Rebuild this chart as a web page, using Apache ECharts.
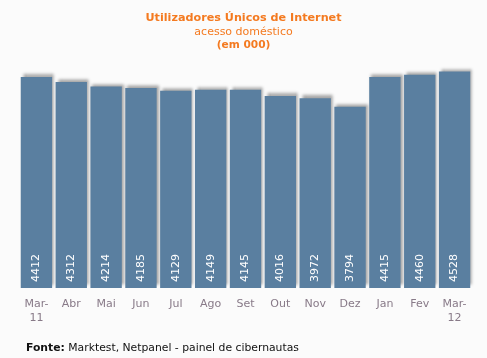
<!DOCTYPE html>
<html><head><meta charset="utf-8">
<script src="https://cdn.jsdelivr.net/npm/echarts@6/dist/echarts.min.js"></script>
<style>html,body{margin:0;padding:0;background:#fbfbfb;}#c{width:487px;height:358px;}</style>
</head><body><div id="c"></div>
<script>
var categories = ['Mar-\n11','Abr','Mai','Jun','Jul','Ago','Set','Out','Nov','Dez','Jan','Fev','Mar-\n12'];
var values = [4412,4312,4214,4185,4129,4149,4145,4016,3972,3794,4415,4460,4528];
var chart = echarts.init(document.getElementById('c'), null, {renderer:'canvas'});
chart.setOption({
  backgroundColor:'#fbfbfb',
  animation:false,
  title:[
    {text:'Utilizadores Únicos de Internet', left:'center', top:8,
     textStyle:{fontFamily:'DejaVu Sans', fontSize:11.2, fontWeight:'bold', color:'#f47a20'}},
    {text:'acesso doméstico', left:'center', top:22,
     textStyle:{fontFamily:'DejaVu Sans', fontSize:11, fontWeight:'normal', color:'#f47a20'}},
    {text:'(em 000)', left:'center', top:35,
     textStyle:{fontFamily:'DejaVu Sans', fontSize:10.6, fontWeight:'bold', color:'#f47a20'}},
    {text:'{b|Fonte:} Marktest, Netpanel - painel de cibernautas', left:21, top:338,
     textStyle:{fontFamily:'DejaVu Sans', fontSize:10.8, fontWeight:'normal', color:'#111',
       rich:{b:{fontFamily:'DejaVu Sans', fontSize:10.8, fontWeight:'bold', color:'#111'}}}}
  ],
  grid:{left:19, right:15, top:49, bottom:70},
  xAxis:{type:'category', data:categories,
    axisLine:{show:false}, axisTick:{show:false},
    axisLabel:{fontFamily:'DejaVu Sans', fontSize:11, color:'#887a88', margin:9, lineHeight:14}},
  yAxis:{type:'value', min:0, max:5000, show:false, splitLine:{show:false}},
  series:[{type:'bar', data:values, barCategoryGap:'10%',
    itemStyle:{color:'#5a7fa0', shadowColor:'rgba(0,0,0,0.35)', shadowBlur:3, shadowOffsetX:2, shadowOffsetY:-3},
    label:{show:true, position:'insideBottom', rotate:90, align:'left', verticalAlign:'middle', distance:6,
      fontFamily:'DejaVu Sans', fontSize:11, color:'#ffffff'}
  }]
});
</script></body></html>
